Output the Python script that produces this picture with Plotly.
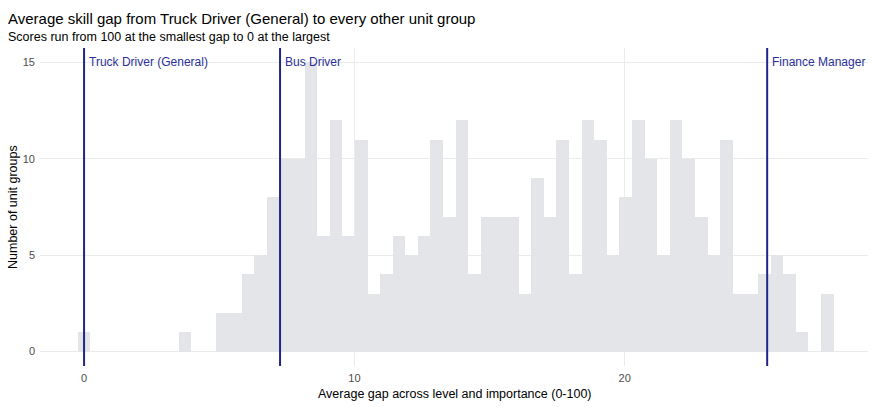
import plotly.graph_objects as go

# histogram counts, 60 equal bins starting at gap 0
bin_width = 0.466
counts = [1, 0, 0, 0, 0, 0, 0, 0, 1, 0,
          0, 2, 2, 4, 5, 8, 10, 10, 15, 6,
          12, 6, 11, 3, 4, 6, 5, 6, 11, 7,
          12, 4, 7, 7, 7, 3, 9, 7, 11, 4,
          12, 11, 5, 8, 12, 10, 5, 12, 10, 7,
          5, 11, 3, 3, 4, 5, 4, 1, 0, 3]
bin_centers = [i * bin_width for i in range(len(counts))]

marker_names = ["Truck Driver (General)", "Bus Driver", "Finance Manager"]
marker_gaps = [0.0, 7.25, 25.27]

line_col = "#1f2687"
font = "Liberation Sans, Arial, sans-serif"

W, H = 877, 407
ML, MR, MT, MB = 40, 9, 48, 41
pw, ph = W - ML - MR, H - MT - MB


def px_x(px):
    return (px - ML) / pw


def px_y(py):
    return (H - MB - py) / ph


fig = go.Figure()
fig.add_trace(go.Bar(
    x=bin_centers, y=counts, width=bin_width,
    marker=dict(color="#e4e5e9", line=dict(width=0)),
    hoverinfo="x+y", showlegend=False,
))

for name, gap in zip(marker_names, marker_gaps):
    fig.add_shape(type="line", x0=gap, x1=gap, xref="x", y0=0, y1=1, yref="paper",
                  line=dict(color=line_col, width=2), layer="above")
    fig.add_annotation(x=gap, y=1, xref="x", yref="paper", text=name, showarrow=False,
                       xanchor="left", yanchor="top", xshift=3, yshift=-5,
                       font=dict(family=font, size=12, color="#2b2f9a"))

fig.add_annotation(xref="paper", yref="paper", x=px_x(6), y=px_y(18),
                   text="Average skill gap from Truck Driver (General) to every other unit group",
                   showarrow=False, xanchor="left", yanchor="middle",
                   font=dict(family=font, size=15, color="black"))
fig.add_annotation(xref="paper", yref="paper", x=px_x(6), y=px_y(37),
                   text="Scores run from 100 at the smallest gap to 0 at the largest",
                   showarrow=False, xanchor="left", yanchor="middle",
                   font=dict(family=font, size=12.5, color="black"))
fig.add_annotation(xref="paper", yref="paper", x=px_x(455), y=px_y(394),
                   text="Average gap across level and importance (0-100)",
                   showarrow=False, xanchor="center", yanchor="middle",
                   font=dict(family=font, size=12.5, color="black"))
fig.add_annotation(xref="paper", yref="paper", x=px_x(13), y=px_y(207),
                   text="Number of unit groups", textangle=-90,
                   showarrow=False, xanchor="center", yanchor="middle",
                   font=dict(family=font, size=12.5, color="black"))

fig.update_layout(
    width=W, height=H,
    margin=dict(l=ML, r=MR, t=MT, b=MB),
    paper_bgcolor="white", plot_bgcolor="white",
    bargap=0,
    font=dict(family=font, size=11, color="#4d4d4d"),
    xaxis=dict(
        range=[-1.63, 29.0], automargin=False,
        tickvals=[0, 10, 20],
        showgrid=True, gridcolor="#ebebeb", gridwidth=1,
        zeroline=False, ticks="", ticklabelstandoff=4,
    ),
    yaxis=dict(
        range=[-0.75, 15.75], automargin=False,
        tickvals=[0, 5, 10, 15],
        showgrid=True, gridcolor="#ebebeb", gridwidth=1,
        zeroline=False, ticks="", ticklabelstandoff=4,
    ),
)

# drop the default page margin so the figure sits at the window's corner
fig.write_html("out.html", config={"displayModeBar": False},
               post_script="document.body.style.margin='0';")
